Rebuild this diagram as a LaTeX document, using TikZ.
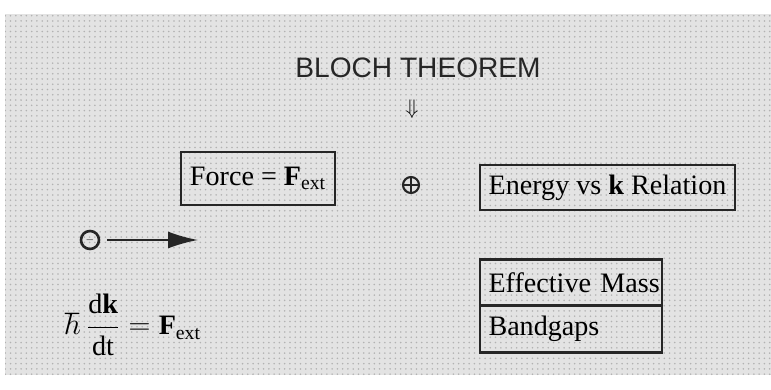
\documentclass[tikz,border=0pt]{standalone}
\usepackage{fontspec}
\setmainfont{Liberation Serif}
\newfontfamily\titlefont{Liberation Sans}
\usetikzlibrary{positioning,arrows.meta,patterns}

\tikzset{
  labelbox/.style={draw=black!85, line width=1.2pt, inner xsep=5pt, outer sep=0pt,
    font=\fontsize{16}{19}\selectfont},
  stackbox/.style={labelbox, text width=3.3cm, align=left, minimum height=0.92cm}
}

\begin{document}
\begin{tikzpicture}
        \useasboundingbox (0,0) rectangle (15.42,-7.8);
        % scanned grey page
        \fill[black!11] (0.1,-0.28) rectangle (15.42,-7.5);
        \fill[pattern=dots, pattern color=black!30] (0.1,-0.28) rectangle (15.42,-7.5);

        \node[font=\titlefont\fontsize{16}{19}\selectfont, text=black!85] (bloch) at (8.36,-1.36) {BLOCH THEOREM};
        \node[font=\fontsize{13}{15}\selectfont] (implies) at (8.24,-2.18) {$\Downarrow$};

        \node[labelbox, minimum height=1.06cm] (force) at (5.16,-3.57) {Force = \textbf{F}\textsubscript{ext}};
        \node[circle, draw=black!85, line width=1.2pt, minimum size=0.32cm, inner sep=0pt,
              path picture={\draw[black!85, line width=1pt] (path picture bounding box.north) -- (path picture bounding box.south)
                            (path picture bounding box.west) -- (path picture bounding box.east);}] (plus) at (8.22,-3.70) {};
        \node[labelbox, minimum height=0.9cm] (energy) at (12.15,-3.75) {Energy vs \textbf{k} Relation};

        % electron pushed by the external force
        \node[circle, draw=black!85, line width=1.5pt, minimum size=0.36cm, inner sep=0pt] (electron) at (1.8,-4.8) {\tiny$-$};
        \coordinate (tip) at (3.96,-4.8);
        \draw[black!85, line width=1pt, -{Latex[length=6mm,width=3.4mm]}, shorten <=4pt] (electron.east) -- (tip);

        \node[font=\fontsize{16}{19}\selectfont] (eqn) at (2.66,-6.5)
            {$\hbar\,\displaystyle\frac{\mathrm{d}\mathbf{k}}{\mathrm{dt}} = \mathbf{F}_{\mathrm{ext}}$};

        \node[stackbox] (mass) at (11.42,-5.65) {\mbox{Effective Mass}};
        \node[stackbox, minimum height=0.94cm, below=0pt of mass] (gaps) {Bandgaps};
    \end{tikzpicture}
\end{document}
